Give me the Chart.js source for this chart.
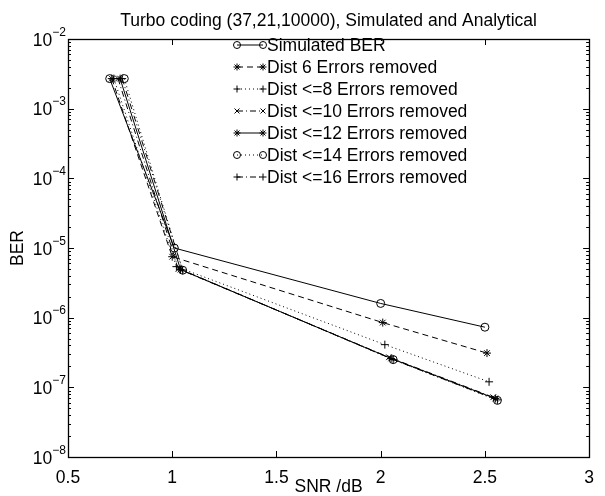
<!DOCTYPE html>
<html>
<head>
<meta charset="utf-8">
<script src="https://cdn.jsdelivr.net/npm/chart.js@4"></script>
<style>
  body { margin: 0; background: #fff; }
  #wrap { width: 605px; height: 496px; }
</style>
</head>
<body>
<div id="wrap"><canvas id="ber-chart"></canvas></div>
<script>
const FONT = 'Liberation Sans, Arial, Helvetica, sans-serif'

// SNR (dB) and BER for each curve
const snrSim = [0.70, 1.01, 2.00, 2.50]
const berSim = [2.7e-3, 1.0e-5, 1.6e-6, 7.3e-7]
const snrD6 = [0.71, 1.00, 2.01, 2.51]
const berD6 = [2.7e-3, 7.5e-6, 8.5e-7, 3.1e-7]
const snrD8 = [0.72, 1.02, 2.02, 2.52]
const berD8 = [2.7e-3, 5.4e-6, 4.1e-7, 1.2e-7]
const snrD10 = [0.74, 1.03, 2.04, 2.54]
const berD10 = [2.7e-3, 5.0e-6, 2.7e-7, 7.2e-8]
const snrD12 = [0.75, 1.04, 2.05, 2.55]
const berD12 = [2.7e-3, 4.9e-6, 2.6e-7, 6.9e-8]
const snrD14 = [0.77, 1.05, 2.06, 2.56]
const berD14 = [2.7e-3, 4.8e-6, 2.5e-7, 6.5e-8]
const snrD16 = [0.76, 1.05, 2.06, 2.56]
const berD16 = [2.7e-3, 4.8e-6, 2.5e-7, 6.6e-8]

const names = [
  'Simulated BER',
  'Dist 6 Errors removed',
  'Dist <=8 Errors removed',
  'Dist <=10 Errors removed',
  'Dist <=12 Errors removed',
  'Dist <=14 Errors removed',
  'Dist <=16 Errors removed',
]
const xTicks = [0.5, 1, 1.5, 2, 2.5, 3]
const yExps = [-8, -7, -6, -5, -4, -3, -2]
const title = 'Turbo coding (37,21,10000), Simulated and Analytical'

const toPts = (xs, ys) => xs.map((x, i) => ({ x: x, y: ys[i] }))

const solid = []
const dashed = [6, 4]
const dotted = [1, 3]
const dashDot = [6, 3, 1, 3]

function series(label, xs, ys, marker, dash) {
  return {
    label: label,
    data: toPts(xs, ys),
    borderColor: '#000',
    borderWidth: 1,
    borderDash: dash,
    backgroundColor: 'rgba(0,0,0,0)',
    pointStyle: marker,
    pointRadius: 4,
    pointBorderWidth: 1,
    pointBorderColor: '#000',
    pointBackgroundColor: 'rgba(0,0,0,0)',
    tension: 0,
  }
}

const datasets = [
  series(names[0], snrSim, berSim, 'circle', solid),
  series(names[1], snrD6, berD6, 'star', dashed),
  series(names[2], snrD8, berD8, 'cross', dotted),
  series(names[3], snrD10, berD10, 'crossRot', dashDot),
  series(names[4], snrD12, berD12, 'star', solid),
  series(names[5], snrD14, berD14, 'circle', dotted),
  series(names[6], snrD16, berD16, 'cross', dashDot),
]

// MATLAB-ish frame: box, inward ticks, 10^n labels, title and legend
const matlabLook = {
  id: 'matlabLook',
  afterDraw(chart) {
    const { ctx, chartArea: a, scales } = chart
    const xs = scales.x
    const ys = scales.y
    ctx.save()
    ctx.strokeStyle = '#000'
    ctx.fillStyle = '#000'
    ctx.lineWidth = 1
    ctx.setLineDash([])

    // ticks
    ctx.beginPath()
    xTicks.forEach(v => {
      const px = Math.round(xs.getPixelForValue(v)) + 0.5
      ctx.moveTo(px, a.bottom); ctx.lineTo(px, a.bottom - 6)
      ctx.moveTo(px, a.top); ctx.lineTo(px, a.top + 6)
    })
    yExps.forEach((e, i) => {
      const py = Math.round(ys.getPixelForValue(Math.pow(10, e))) + 0.5
      ctx.moveTo(a.left, py); ctx.lineTo(a.left + 6, py)
      ctx.moveTo(a.right, py); ctx.lineTo(a.right - 6, py)
      if (i < yExps.length - 1) {
        for (let m = 2; m <= 9; m++) {
          const my = Math.round(ys.getPixelForValue(m * Math.pow(10, e))) + 0.5
          ctx.moveTo(a.left, my); ctx.lineTo(a.left + 3, my)
          ctx.moveTo(a.right, my); ctx.lineTo(a.right - 3, my)
        }
      }
    })
    ctx.stroke()

    // box
    ctx.lineWidth = 1.3
    ctx.strokeRect(Math.round(a.left) + 0.5, Math.round(a.top) + 0.5,
      Math.round(a.right - a.left), Math.round(a.bottom - a.top))

    // y tick labels 10^n
    ctx.textAlign = 'right'
    ctx.textBaseline = 'middle'
    yExps.forEach(e => {
      const py = ys.getPixelForValue(Math.pow(10, e))
      const ex = '\u2212' + Math.abs(e)
      ctx.font = '12px ' + FONT
      const w = ctx.measureText(ex).width
      ctx.fillText(ex, a.left - 2, py - 6.5)
      ctx.font = '17.5px ' + FONT
      ctx.fillText('10', a.left - 2 - w, py + 2)
    })

    // title
    ctx.textAlign = 'center'
    ctx.font = '17.5px ' + FONT
    ctx.fillText(title, (a.left + a.right) / 2, 21)

    // legend
    const lx0 = 237, lx1 = 263, tx = 267, ly0 = 45, dy = 22
    ctx.fillStyle = '#fff'
    ctx.fillRect(228, a.top + 2, 250, 150)
    chart.data.datasets.forEach((ds, i) => {
      const ly = ly0 + i * dy
      ctx.strokeStyle = '#000'
      ctx.lineWidth = 1
      ctx.setLineDash(ds.borderDash)
      ctx.beginPath()
      ctx.moveTo(lx0, ly); ctx.lineTo(lx1, ly)
      ctx.stroke()
      ctx.setLineDash([])
      ctx.fillStyle = 'rgba(0,0,0,0)'
      const opt = { pointStyle: ds.pointStyle, radius: 3.5, rotation: 0, borderWidth: 1 }
      Chart.helpers.drawPoint(ctx, opt, lx0, ly)
      Chart.helpers.drawPoint(ctx, opt, lx1, ly)
      ctx.fillStyle = '#000'
      ctx.textAlign = 'left'
      ctx.font = '17.5px ' + FONT
      ctx.fillText(ds.label, tx, ly + 1)
    })
    ctx.restore()
  },
}

const config = {
  type: 'line',
  data: { datasets: datasets },
  options: {
    responsive: true,
    maintainAspectRatio: false,
    animation: false,
    layout: { padding: { top: 39, right: 7, bottom: 0, left: 0 } },
    plugins: {
      legend: { display: false },
      title: { display: false },
      tooltip: { enabled: false },
    },
    scales: {
      x: {
        type: 'linear',
        min: 0.5,
        max: 3,
        afterFit: s => { s.height = 39 },
        grid: { display: false, drawTicks: false },
        border: { display: false },
        ticks: {
          stepSize: 0.5,
          padding: 11,
          color: '#000',
          font: { family: FONT, size: 17.5 },
          callback: v => String(Number(v)),
        },
        title: {
          display: true,
          text: 'SNR /dB',
          color: '#000',
          font: { family: FONT, size: 17.5 },
          padding: { top: 0, bottom: -2 },
        },
      },
      y: {
        type: 'logarithmic',
        min: 1e-8,
        max: 1e-2,
        afterFit: s => { s.width = 68 },
        grid: { display: false },
        border: { display: false },
        ticks: { display: false },
        title: {
          display: true,
          text: 'BER',
          color: '#000',
          font: { family: FONT, size: 17.5 },
          padding: { top: 8, bottom: 0 },
        },
      },
    },
  },
  plugins: [matlabLook],
}

const chart = new Chart(document.getElementById('ber-chart'), config)
</script>
</body>
</html>
